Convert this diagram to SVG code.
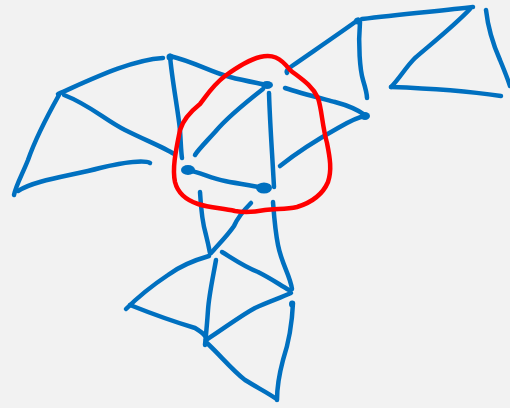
<svg xmlns="http://www.w3.org/2000/svg" width="510" height="408" viewBox="0 0 510 408">
<style>
.b{fill:none;stroke:#0070c0;stroke-width:4.5;stroke-linecap:round;stroke-linejoin:round}
.r{fill:none;stroke:#ff0000;stroke-width:4.5;stroke-linecap:round;stroke-linejoin:round}
.d{fill:#0070c0}
</style>
<rect width="510" height="408" fill="#f2f2f2"/>
<g id="strokes">
<path class="b" d="M58,94 C90,80 130,60 163,58"/>
<path class="b" d="M59,95 C45,120 35,140 28,160 C22,175 16,185 14,195"/>
<path class="b" d="M18,191 C35,180 70,176 100,168 C125,162 145,160 150,163"/>
<path class="b" d="M64,95 C90,105 105,120 125,130 C145,140 165,148 174,154"/>
<path class="b" d="M170,56 C172,80 178,110 180,130 C181,145 181,152 182,158"/>
<path class="b" d="M170,56 C195,62 210,72 230,77 C245,81 258,83 267,85"/>
<path class="b" d="M269,93 C270,125 272,150 274,187"/>
<path class="b" d="M263,89 C245,103 225,120 215,132 C205,143 198,150 195,155"/>
<path class="b" d="M187,170 C200,172 210,178 225,181 C240,184 255,186 265,188"/>
<path class="b" d="M280,166 C300,150 320,138 338,128 C350,121 358,117 365,116"/>
<path class="b" d="M285,88 C300,93 320,98 335,102 C350,106 358,110 365,115"/>
<path class="b" d="M287,73 C285,70 290,68 292,66 C315,50 340,33 358,20"/>
<path class="b" d="M360,22 C358,45 360,70 363,80 C366,90 367,95 367,98"/>
<path class="b" d="M362,19 C400,14 440,11 473,7"/>
<path class="b" d="M470,9 C455,25 430,45 415,58 C405,68 400,78 391,87"/>
<path class="b" d="M391,87 C420,88 460,90 501,96"/>
<path class="b" d="M486,10 C488,28 492,42 500,60 C505,72 508,80 510,86"/>
<path class="b" d="M200,192 C201,210 203,225 206,235 C208,243 209,248 210,253"/>
<path class="b" d="M251,203 C244,210 238,217 234,226 C228,235 218,245 211,253"/>
<path class="b" d="M273,202 C274,215 275,230 278,245 C282,265 290,275 292,289"/>
<path class="b" d="M209,256 C195,260 180,266 168,275 C150,287 137,298 126,309"/>
<path class="b" d="M130,305 C150,313 175,322 195,328 C200,331 203,333 205,336"/>
<path class="b" d="M216,260 C213,277 209,295 208,310 C207,325 206,335 205,345"/>
<path class="b" d="M222,252 C235,260 245,267 258,272 C272,279 280,285 289,290"/>
<path class="b" d="M291,293 C280,298 268,302 255,308 C240,316 222,330 206,340"/>
<path class="b" d="M207,343 C220,355 232,370 245,380 C258,388 268,393 275,398"/>
<path class="b" d="M293,303 C292,325 288,345 283,360 C279,375 277,388 277,400"/>
<ellipse class="d" cx="170" cy="57" rx="3.5" ry="3.5"/>
<ellipse class="d" cx="267" cy="85" rx="6" ry="4"/>
<ellipse class="d" cx="188" cy="170" rx="7" ry="5"/>
<ellipse class="d" cx="264" cy="188" rx="8" ry="5.5"/>
<ellipse class="d" cx="365" cy="116" rx="5" ry="4"/>
<ellipse class="d" cx="358" cy="21" rx="4" ry="3.5"/>
<ellipse class="d" cx="292" cy="304" rx="3" ry="3.5"/>
<path class="r" d="M260,57 C272,54 280,57 290,70 C300,78 312,85 318,98 C322,110 322,125 327,143 C330,158 332,170 328,182 C322,196 310,203 297,207 C285,210 275,208 265,210 C255,212 245,213 235,211 C222,208 210,208 198,204 C186,200 178,194 175,182 C172,168 176,150 180,130 C183,120 190,112 200,104 C207,95 213,85 225,76 C236,68 248,60 260,57 Z"/>
</g>
</svg>
